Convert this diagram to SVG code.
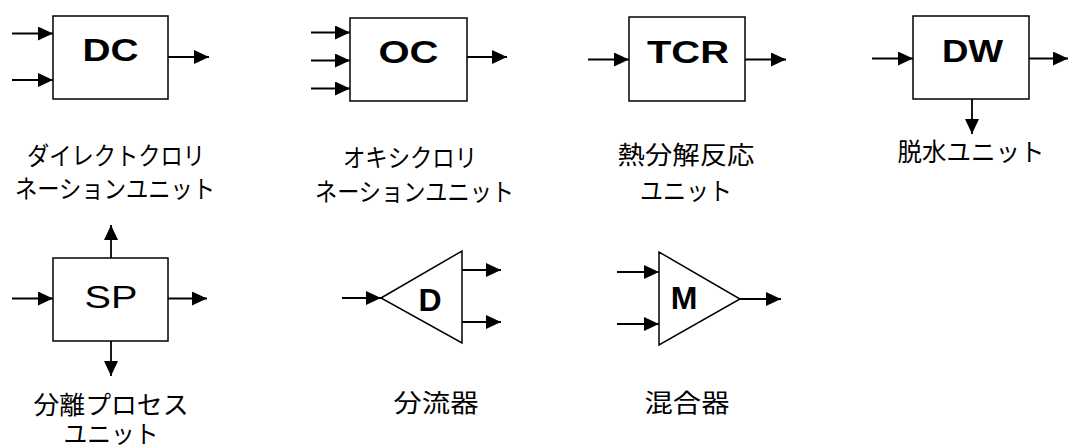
<svg xmlns="http://www.w3.org/2000/svg" width="1070" height="448" viewBox="0 0 1070 448">
<defs>
<marker id="ah" markerUnits="userSpaceOnUse" markerWidth="16" markerHeight="15" refX="15" refY="7" orient="auto">
<path d="M0,0 L15,7 L0,14 Z" fill="#000"/>
</marker>
<style>
.box{fill:#fff;stroke:#000;stroke-width:1.5}
.c{stroke:#000;stroke-width:1.8;fill:none;marker-end:url(#ah)}
.t{font-family:"Liberation Sans",Arial,sans-serif;font-weight:bold;font-size:32px;text-anchor:middle;fill:#000}
.tr{font-weight:normal}
.l{font-family:"Noto Sans CJK JP","Noto Sans CJK SC",sans-serif;font-size:25px;text-anchor:middle;fill:#000}
</style>
</defs>
<rect width="1070" height="448" fill="#fff"/>
<g id="connectors">
<line class="c" x1="12" y1="33.5" x2="53" y2="33.5"/>
<line class="c" x1="12" y1="80" x2="53" y2="80"/>
<line class="c" x1="168" y1="57" x2="209" y2="57"/>
<line class="c" x1="311" y1="32.5" x2="350" y2="32.5"/>
<line class="c" x1="311" y1="60.5" x2="350" y2="60.5"/>
<line class="c" x1="311" y1="88.5" x2="350" y2="88.5"/>
<line class="c" x1="467" y1="57" x2="507" y2="57"/>
<line class="c" x1="588" y1="59.5" x2="629" y2="59.5"/>
<line class="c" x1="745" y1="59.5" x2="786" y2="59.5"/>
<line class="c" x1="872" y1="58.5" x2="913" y2="58.5"/>
<line class="c" x1="1029" y1="58.5" x2="1068" y2="58.5"/>
<line class="c" x1="972" y1="99" x2="972" y2="134"/>
<line class="c" x1="12" y1="298.5" x2="53" y2="298.5"/>
<line class="c" x1="167" y1="298.5" x2="207" y2="298.5"/>
<line class="c" x1="111" y1="258" x2="111" y2="225"/>
<line class="c" x1="111" y1="341" x2="111" y2="376"/>
<line class="c" x1="342" y1="298" x2="381" y2="298"/>
<line class="c" x1="462" y1="270" x2="501" y2="270"/>
<line class="c" x1="462" y1="322" x2="501" y2="322"/>
<line class="c" x1="617" y1="272" x2="659" y2="272"/>
<line class="c" x1="617" y1="324" x2="659" y2="324"/>
<line class="c" x1="740" y1="299" x2="781" y2="299"/>
</g>
<g id="DC">
<rect class="box" x="53" y="16" width="115" height="83"/>
<text class="t" x="110.5" y="61" textLength="56" lengthAdjust="spacingAndGlyphs">DC</text>
<text class="l" x="116" y="165" textLength="178" lengthAdjust="spacingAndGlyphs">ダイレクトクロリ</text>
<text class="l" x="115" y="198" textLength="200" lengthAdjust="spacingAndGlyphs">ネーションユニット</text>
</g>
<g id="OC">
<rect class="box" x="350" y="18" width="117" height="83"/>
<text class="t" x="408.5" y="63" textLength="60" lengthAdjust="spacingAndGlyphs">OC</text>
<text class="l" x="410" y="167" textLength="134" lengthAdjust="spacingAndGlyphs">オキシクロリ</text>
<text class="l" x="414.5" y="200.5" textLength="199" lengthAdjust="spacingAndGlyphs">ネーションユニット</text>
</g>
<g id="TCR">
<rect class="box" x="629" y="17" width="116" height="84"/>
<text class="t" x="688" y="63" textLength="82" lengthAdjust="spacingAndGlyphs">TCR</text>
<text class="l" x="686" y="164" textLength="137" lengthAdjust="spacingAndGlyphs">熱分解反応</text>
<text class="l" x="686" y="199.5" textLength="92" lengthAdjust="spacingAndGlyphs">ユニット</text>
</g>
<g id="DW">
<rect class="box" x="913" y="16" width="116" height="83"/>
<text class="t" x="972.5" y="62" textLength="61" lengthAdjust="spacingAndGlyphs">DW</text>
<text class="l" x="971" y="161" textLength="147" lengthAdjust="spacingAndGlyphs">脱水ユニット</text>
</g>
<g id="SP">
<rect class="box" x="53" y="258" width="115" height="83"/>
<text class="t tr" x="111" y="308" font-size="36" textLength="53" lengthAdjust="spacingAndGlyphs">SP</text>
<text class="l" x="111" y="414" font-size="24" textLength="155" lengthAdjust="spacingAndGlyphs">分離プロセス</text>
<text class="l" x="111" y="443" font-size="24" textLength="95" lengthAdjust="spacingAndGlyphs">ユニット</text>
</g>
<g id="D">
<polygon class="box" points="381,298 462,251 462,343"/>
<text class="t" x="430" y="311" font-size="36">D</text>
<text class="l" x="436" y="411.5" textLength="85" lengthAdjust="spacingAndGlyphs">分流器</text>
</g>
<g id="M">
<polygon class="box" points="659,252 659,345 740,299"/>
<text class="t" x="684" y="309" font-size="38">M</text>
<text class="l" x="687" y="411.5" textLength="85" lengthAdjust="spacingAndGlyphs">混合器</text>
</g>
</svg>
